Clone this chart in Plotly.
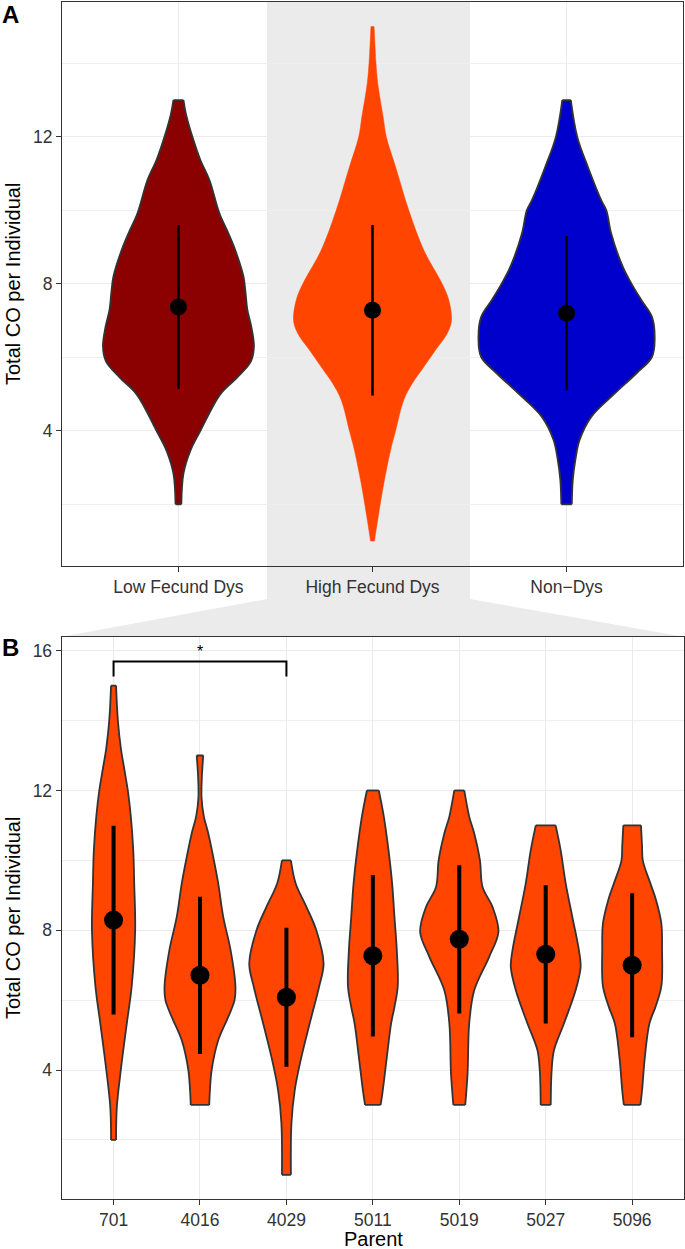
import plotly.graph_objects as go

W, H = 685, 1249
FONT = "Liberation Sans, Arial, Helvetica, sans-serif"

# ---------------- Panel A data ----------------
groups_a = ["Low Fecund Dys", "High Fecund Dys", "Non\u2212Dys"]
colors_a = ["#8B0000", "#FF4500", "#0000CD"]

# violin outlines: y level and half-width (category units)
low_y = [2.0, 2.84, 3.47, 4.0, 5.0, 5.45, 5.9, 6.3, 6.82, 7.3, 7.8, 8.2, 8.9,
         9.37, 9.92, 10.82, 11.37, 12.0, 12.64, 13.0]
low_w = [0.015, 0.026, 0.062, 0.113, 0.216, 0.302, 0.374, 0.389, 0.376, 0.355, 0.345,
         0.335, 0.294, 0.258, 0.211, 0.160, 0.113, 0.072, 0.038, 0.026]

high_y = [1.0, 1.65, 2.56, 3.47, 4.0, 4.84, 5.29, 5.74, 6.2, 6.65, 7.0, 7.56, 8.0, 8.92,
          10.0, 11.18, 12.0, 12.54, 13.46, 14.0, 14.36, 15.0]
high_w = [0.010, 0.029, 0.058, 0.093, 0.119, 0.161, 0.205, 0.264, 0.325, 0.385, 0.407, 0.393,
          0.359, 0.264, 0.187, 0.119, 0.071, 0.055, 0.027, 0.018, 0.014, 0.008]

non_y = [2.0, 2.66, 3.2, 3.75, 4.38, 5.01, 5.56, 6.01, 6.5, 7.1, 7.56, 8.0, 8.46,
         9.37, 10.0, 10.27, 11.18, 12.0, 13.0]
non_w = [0.027, 0.032, 0.045, 0.067, 0.127, 0.247, 0.359, 0.440, 0.454, 0.440, 0.385,
         0.335, 0.290, 0.230, 0.205, 0.179, 0.110, 0.055, 0.022]

means_a = [7.37, 7.28, 7.20]
sds_a = [2.23, 2.32, 2.10]

# ---------------- Panel B data ----------------
parents = ["701", "4016", "4029", "5011", "5019", "5027", "5096"]
color_b = "#FF4500"

p701_y = [2.0, 2.94, 4.0, 5.33, 6.4, 8.0, 9.34, 10.29, 11.25, 12.0, 12.6, 13.2, 14.0, 15.0]
p701_w = [0.029, 0.038, 0.084, 0.153, 0.210, 0.250, 0.239, 0.228, 0.200, 0.165, 0.125,
          0.085, 0.050, 0.029]

p4016_y = [3.0, 3.42, 4.0, 4.85, 5.52, 6.0, 6.4, 7.43, 8.38, 9.34, 10.1, 10.77, 11.25,
           11.8, 12.4, 13.0]
p4016_w = [0.107, 0.115, 0.135, 0.211, 0.327, 0.400, 0.410, 0.354, 0.269, 0.211, 0.153,
           0.096, 0.045, 0.018, 0.022, 0.038]

p4029_y = [1.0, 2.47, 3.42, 4.37, 5.33, 6.4, 7.05, 8.0, 8.67, 9.34, 10.0]
p4029_w = [0.052, 0.058, 0.096, 0.173, 0.269, 0.380, 0.430, 0.346, 0.231, 0.107, 0.052]

p5011_y = [3.0, 3.42, 4.37, 5.33, 5.8, 6.4, 7.43, 8.38, 9.34, 10.29, 11.25, 12.0]
p5011_w = [0.090, 0.115, 0.162, 0.211, 0.250, 0.288, 0.277, 0.250, 0.223, 0.181, 0.127, 0.069]

p5019_y = [3.0, 3.9, 5.33, 6.28, 7.24, 7.95, 8.67, 9.24, 10.0, 10.77, 11.25, 12.0]
p5019_w = [0.069, 0.096, 0.115, 0.173, 0.346, 0.453, 0.384, 0.269, 0.239, 0.173,
           0.115, 0.058]

p5027_y = [3.0, 4.0, 4.57, 5.33, 6.28, 6.95, 7.43, 8.38, 9.34, 10.29, 11.0]
p5027_w = [0.058, 0.069, 0.096, 0.211, 0.346, 0.404, 0.384, 0.308, 0.231, 0.173, 0.115]

p5096_y = [3.0, 3.42, 4.37, 5.33, 5.8, 6.4, 7.43, 8.19, 8.86, 9.34, 10.0, 10.4, 11.0]
p5096_w = [0.096, 0.115, 0.147, 0.200, 0.269, 0.338, 0.346, 0.338, 0.277, 0.211,
           0.123, 0.115, 0.102]

means_b = [8.29, 6.71, 6.08, 7.27, 7.74, 7.31, 7.00]
sds_b = [2.70, 2.25, 1.99, 2.31, 2.12, 1.98, 2.06]

# significance bracket
sig_pair = ["701", "4029"]
sig_y = 15.69
sig_drop = 0.43
sig_label = "*"

# ---------------- figure ----------------
fig = go.Figure()


def px_x(p):
    return p / W


def px_y(p):
    return 1 - p / H


def add_violin(yv, wv, center, fill, outline, lw, xa, ya):
    line = dict(color=outline, width=lw, shape="spline", smoothing=1.0)
    # left edge (open spline)
    fig.add_trace(go.Scatter(
        x=[center - w for w in wv], y=list(yv), xaxis=xa, yaxis=ya, mode="lines",
        line=line, hoverinfo="skip", showlegend=False))
    # right edge, filled toward the left edge
    fig.add_trace(go.Scatter(
        x=[center + w for w in wv], y=list(yv), xaxis=xa, yaxis=ya, mode="lines",
        line=line, fill="tonextx", fillcolor=fill, hoverinfo="skip", showlegend=False))
    # flat trimmed ends
    fig.add_trace(go.Scatter(
        x=[center - wv[0], center + wv[0], None, center - wv[-1], center + wv[-1]],
        y=[yv[0], yv[0], None, yv[-1], yv[-1]], xaxis=xa, yaxis=ya, mode="lines",
        line=dict(color=outline, width=lw), hoverinfo="skip", showlegend=False))


def add_pointrange(center, m, sd, size, thick, xa, ya):
    fig.add_trace(go.Scatter(
        x=[center], y=[m], xaxis=xa, yaxis=ya, mode="markers",
        marker=dict(size=size, color="black"),
        error_y=dict(type="data", array=[sd], thickness=thick, width=0, color="black"),
        hoverinfo="skip", showlegend=False))


profiles_a = [(low_y, low_w), (high_y, high_w), (non_y, non_w)]
for i, (yv, wv) in enumerate(profiles_a):
    c = i + 1
    if i == 1:
        add_violin(yv, wv, c, colors_a[i], colors_a[i], 0.5, "x", "y")
    else:
        add_violin(yv, wv, c, colors_a[i], "#333333", 1.8, "x", "y")
for i in range(3):
    add_pointrange(i + 1, means_a[i], sds_a[i], 17, 2.6, "x", "y")

profiles_b = [(p701_y, p701_w), (p4016_y, p4016_w), (p4029_y, p4029_w), (p5011_y, p5011_w),
              (p5019_y, p5019_w), (p5027_y, p5027_w), (p5096_y, p5096_w)]
for i, (yv, wv) in enumerate(profiles_b):
    add_violin(yv, wv, i + 1, color_b, "#333333", 1.8, "x2", "y2")
for i in range(len(parents)):
    add_pointrange(i + 1, means_b[i], sds_b[i], 19, 4, "x2", "y2")

# significance bracket
x1 = parents.index(sig_pair[0]) + 1
x2 = parents.index(sig_pair[1]) + 1
fig.add_trace(go.Scatter(
    x=[x1, x1, x2, x2], y=[sig_y - sig_drop, sig_y, sig_y, sig_y - sig_drop],
    xaxis="x2", yaxis="y2", mode="lines", line=dict(color="black", width=2),
    hoverinfo="skip", showlegend=False))

A_dom_x = [px_x(62), px_x(683)]
A_dom_y = [px_y(565.7), px_y(2)]
B_dom_x = [px_x(61.7), px_x(684)]
B_dom_y = [px_y(1199.3), px_y(636.7)]

common = dict(showline=True, mirror=True, linecolor="#333333", linewidth=1.2,
              ticks="outside", ticklen=5, tickwidth=1.1, tickcolor="#333333",
              tickfont=dict(family=FONT, size=17.5, color="#333333"),
              showgrid=True, gridcolor="#EBEBEB", gridwidth=1.2, zeroline=False,
              fixedrange=True)
minor = dict(dtick=2, tick0=0, showgrid=True, gridcolor="#EFEFEF", gridwidth=0.8)

fig.update_layout(
    width=W, height=H, margin=dict(l=0, r=0, t=0, b=0),
    paper_bgcolor="white", plot_bgcolor="white", showlegend=False,
    font=dict(family=FONT, color="#000000"),
    xaxis=dict(domain=A_dom_x, range=[0.4, 3.6], tickmode="array", tickvals=[1, 2, 3],
               ticktext=groups_a, anchor="y", **common),
    yaxis=dict(domain=A_dom_y, range=[0.33, 15.67], tickmode="linear", tick0=0, dtick=4,
               minor=minor, anchor="x", **common),
    xaxis2=dict(domain=B_dom_x, range=[0.4, 7.6], tickmode="array",
                tickvals=list(range(1, len(parents) + 1)), ticktext=parents,
                anchor="y2", **common),
    yaxis2=dict(domain=B_dom_y, range=[0.3, 16.4], tickmode="linear", tick0=0, dtick=4,
                minor=minor, anchor="x2", **common),
)

# gray highlight + zoom funnel
path = ("M {a},{t} L {b},{t} L {b},{m} L {r},{bt} L {l},{bt} L {a},{m} Z").format(
    a=px_x(267), b=px_x(470), t=px_y(2), m=px_y(599), r=px_x(684), l=px_x(61.7),
    bt=px_y(636.7))
fig.add_shape(type="path", path=path, xref="paper", yref="paper",
              fillcolor="#EBEBEB", line=dict(width=0), layer="below")

# annotations
ann = [
    dict(text=sig_label, x=(x1 + x2) / 2, y=sig_y, xref="x2", yref="y2", showarrow=False,
         yanchor="bottom", font=dict(size=16, color="black")),
    dict(text="<b>A</b>", x=px_x(0), y=px_y(15), xref="paper", yref="paper",
         xanchor="left", yanchor="middle", showarrow=False, font=dict(size=24, color="black")),
    dict(text="<b>B</b>", x=px_x(0), y=px_y(647), xref="paper", yref="paper",
         xanchor="left", yanchor="middle", showarrow=False, font=dict(size=24, color="black")),
    dict(text="Total CO per Individual", x=px_x(13), y=px_y(284), xref="paper", yref="paper",
         textangle=-90, xanchor="center", yanchor="middle", showarrow=False,
         font=dict(size=20, color="black")),
    dict(text="Total CO per Individual", x=px_x(13), y=px_y(918), xref="paper", yref="paper",
         textangle=-90, xanchor="center", yanchor="middle", showarrow=False,
         font=dict(size=20, color="black")),
    dict(text="Parent", x=px_x(373), y=px_y(1239), xref="paper", yref="paper",
         xanchor="center", yanchor="middle", showarrow=False, font=dict(size=20, color="black")),
]
fig.update_layout(annotations=ann)

fig.write_html("out.html", config={"displayModeBar": False},
               post_script="document.body.style.margin='0px';"
                           "document.body.style.overflow='hidden';")
